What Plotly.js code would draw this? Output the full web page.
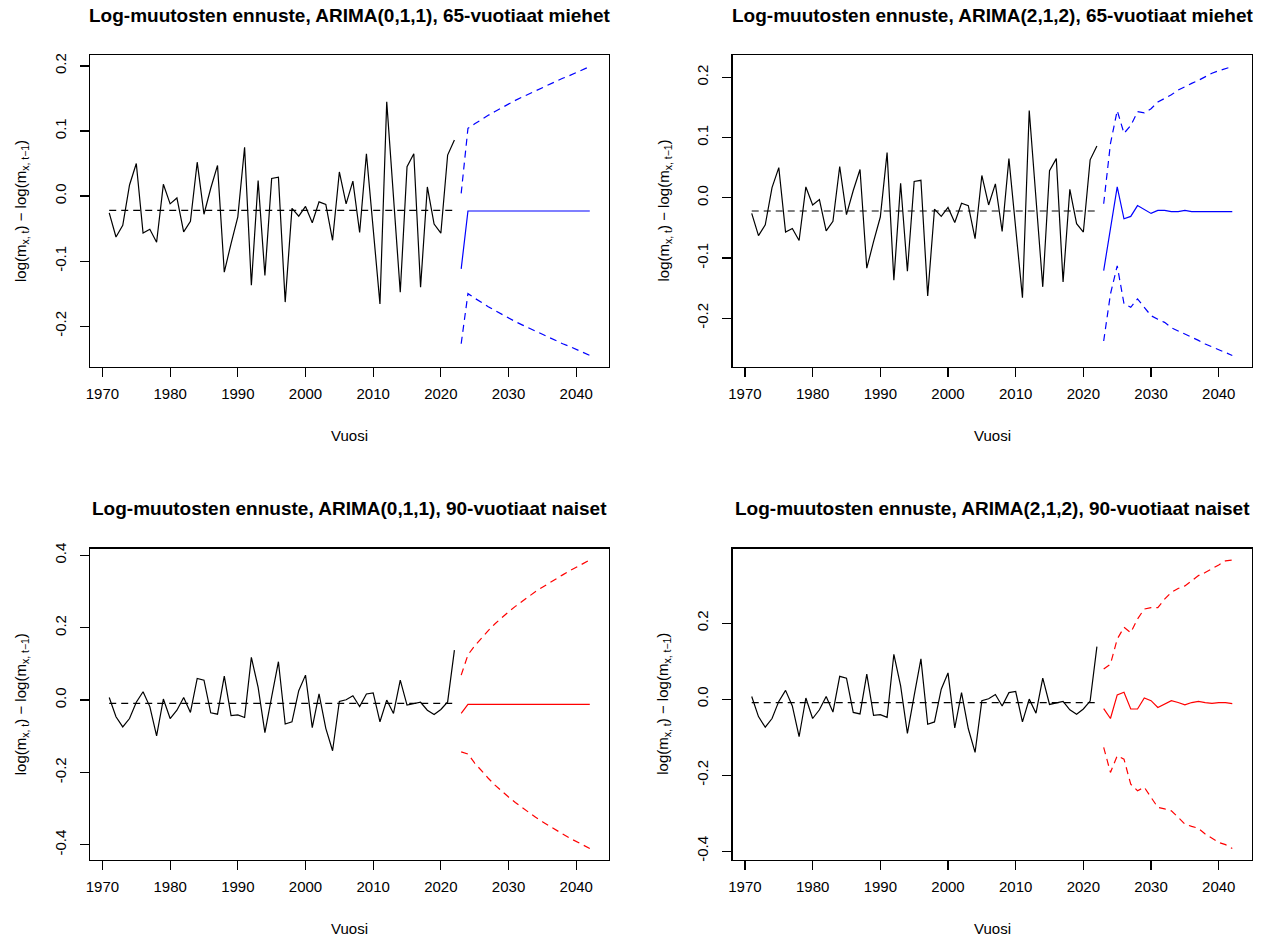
<!DOCTYPE html>
<html>
<head>
<meta charset="utf-8">
<script src="https://cdn.plot.ly/plotly-3.0.1.min.js"></script>
<style>
  html, body { margin: 0; padding: 0; background: #ffffff; }
  #chart { width: 1269px; height: 940px; }
</style>
</head>
<body>
<div id="chart"></div>
<script>
// Observed years and yearly log-changes of mortality
const years = [1971,1972,1973,1974,1975,1976,1977,1978,1979,1980,
               1981,1982,1983,1984,1985,1986,1987,1988,1989,1990,
               1991,1992,1993,1994,1995,1996,1997,1998,1999,2000,
               2001,2002,2003,2004,2005,2006,2007,2008,2009,2010,
               2011,2012,2013,2014,2015,2016,2017,2018,2019,2020,
               2021,2022];

const men65 = [-0.026,-0.063,-0.045,0.017,0.050,-0.057,-0.051,-0.071,0.018,-0.012,
               -0.003,-0.055,-0.039,0.052,-0.028,0.012,0.047,-0.117,-0.073,-0.032,
               0.075,-0.137,0.024,-0.122,0.027,0.029,-0.163,-0.019,-0.031,-0.016,
               -0.041,-0.009,-0.013,-0.068,0.037,-0.012,0.023,-0.056,0.065,-0.050,
               -0.166,0.145,-0.005,-0.148,0.045,0.065,-0.140,0.014,-0.043,-0.057,
               0.063,0.086];

const women90 = [0.007,-0.046,-0.074,-0.051,-0.006,0.023,-0.018,-0.099,0.003,-0.051,
                 -0.028,0.007,-0.034,0.060,0.055,-0.035,-0.039,0.066,-0.043,-0.041,
                 -0.048,0.118,0.035,-0.090,0.009,0.106,-0.066,-0.060,0.026,0.069,
                 -0.076,0.017,-0.078,-0.140,-0.004,0.001,0.012,-0.018,0.017,0.020,
                 -0.060,0.000,-0.037,0.055,-0.014,-0.009,-0.006,-0.028,-0.040,-0.026,
                 -0.005,0.138];

// Average level of each observed series (dashed reference line)
const men65Level = -0.022;
const women90Level = -0.009;

// Forecast horizon
const fcYears = [2023,2024,2025,2026,2027,2028,2029,2030,2031,2032,
                 2033,2034,2035,2036,2037,2038,2039,2040,2041,2042];

// ARIMA(0,1,1), 65-year-old men
const a011MenMean  = [-0.112,-0.023,-0.023,-0.023,-0.023,-0.023,-0.023,-0.023,-0.023,-0.023,
                      -0.023,-0.023,-0.023,-0.023,-0.023,-0.023,-0.023,-0.023,-0.023,-0.023];
const a011MenUpper = [0.004,0.104,0.111,0.118,0.124,0.130,0.136,0.142,0.147,0.152,
                      0.157,0.162,0.167,0.172,0.176,0.181,0.185,0.190,0.194,0.199];
const a011MenLower = [-0.227,-0.150,-0.157,-0.164,-0.170,-0.176,-0.182,-0.188,-0.193,-0.198,
                      -0.203,-0.208,-0.213,-0.218,-0.222,-0.227,-0.231,-0.236,-0.240,-0.245];

// ARIMA(2,1,2), 65-year-old men
const a212MenMean  = [-0.121,-0.049,0.018,-0.035,-0.031,-0.013,-0.020,-0.026,-0.021,-0.021,
                      -0.023,-0.023,-0.021,-0.023,-0.023,-0.023,-0.023,-0.023,-0.023,-0.023];
const a212MenUpper = [-0.010,0.090,0.145,0.107,0.120,0.143,0.141,0.148,0.159,0.165,
                      0.171,0.179,0.185,0.190,0.195,0.201,0.207,0.211,0.215,0.218];
const a212MenLower = [-0.238,-0.160,-0.113,-0.176,-0.182,-0.168,-0.182,-0.196,-0.202,-0.207,
                      -0.216,-0.221,-0.226,-0.232,-0.237,-0.243,-0.248,-0.253,-0.257,-0.262];

// ARIMA(0,1,1), 90-year-old women
const a011WomenMean  = [-0.037,-0.012,-0.012,-0.012,-0.012,-0.012,-0.012,-0.012,-0.012,-0.012,
                        -0.012,-0.012,-0.012,-0.012,-0.012,-0.012,-0.012,-0.012,-0.012,-0.012];
const a011WomenUpper = [0.069,0.125,0.150,0.172,0.192,0.211,0.228,0.244,0.259,0.273,
                        0.287,0.300,0.312,0.324,0.335,0.346,0.357,0.367,0.377,0.387];
const a011WomenLower = [-0.143,-0.149,-0.174,-0.196,-0.216,-0.235,-0.252,-0.268,-0.283,-0.297,
                        -0.311,-0.324,-0.336,-0.348,-0.359,-0.370,-0.381,-0.391,-0.401,-0.410];

// ARIMA(2,1,2), 90-year-old women
const a212WomenMean  = [-0.025,-0.051,0.011,0.018,-0.026,-0.026,0.003,-0.004,-0.022,-0.013,
                        -0.004,-0.009,-0.015,-0.009,-0.006,-0.009,-0.011,-0.009,-0.009,-0.012];
const a212WomenUpper = [0.079,0.092,0.158,0.189,0.175,0.211,0.237,0.241,0.241,0.263,
                        0.281,0.291,0.298,0.311,0.325,0.333,0.342,0.353,0.364,0.366];
const a212WomenLower = [-0.127,-0.193,-0.149,-0.158,-0.224,-0.241,-0.232,-0.259,-0.285,-0.289,
                        -0.294,-0.311,-0.329,-0.335,-0.340,-0.355,-0.367,-0.377,-0.383,-0.393];

// Tick labels
const xTickVals = [1970,1980,1990,2000,2010,2020,2030,2040];
const xTickText = ['1970','1980','1990','2000','2010','2020','2030','2040'];
const yTickVals65 = [-0.2,-0.1,0.0,0.1,0.2];
const yTickText65 = ['-0.2','-0.1','0.0','0.1','0.2'];
const yTickVals90 = [-0.4,-0.2,0.0,0.2,0.4];
const yTickText90 = ['-0.4','-0.2','0.0','0.2','0.4'];

const titles = [
  'Log-muutosten ennuste, ARIMA(0,1,1), 65-vuotiaat miehet',
  'Log-muutosten ennuste, ARIMA(2,1,2), 65-vuotiaat miehet',
  'Log-muutosten ennuste, ARIMA(0,1,1), 90-vuotiaat naiset',
  'Log-muutosten ennuste, ARIMA(2,1,2), 90-vuotiaat naiset'
];
const xLabel = 'Vuosi';
const yLabel = 'log(m<sub>x, t</sub>) \u2212 log(m<sub>x, t\u22121</sub>)';

const panels = [
  { hist: men65,   level: men65Level,   mean: a011MenMean,   upper: a011MenUpper,   lower: a011MenLower,   color: '#0000ff', tv: yTickVals65, tt: yTickText65 },
  { hist: men65,   level: men65Level,   mean: a212MenMean,   upper: a212MenUpper,   lower: a212MenLower,   color: '#0000ff', tv: yTickVals65, tt: yTickText65 },
  { hist: women90, level: women90Level, mean: a011WomenMean, upper: a011WomenUpper, lower: a011WomenLower, color: '#ff0000', tv: yTickVals90, tt: yTickText90 },
  { hist: women90, level: women90Level, mean: a212WomenMean, upper: a212WomenUpper, lower: a212WomenLower, color: '#ff0000', tv: yTickVals90, tt: yTickText90 }
];

// Plot boxes in pixels: [left, right, top, bottom]
const W = 1269, H = 940;
const boxes = [
  [90, 609, 55, 367],
  [732.5, 1251.5, 55, 367],
  [90, 609, 548.5, 860],
  [732.5, 1251.5, 548.5, 860]
];

// R-style axis range: data extent padded by 4% on both sides
function padded(arrs) {
  let lo = Infinity, hi = -Infinity;
  arrs.forEach(a => a.forEach(v => { if (v < lo) lo = v; if (v > hi) hi = v; }));
  const d = 0.04 * (hi - lo);
  return [lo - d, hi + d];
}

const font = 'Liberation Sans, Arial, sans-serif';
const traces = [];
const layout = {
  width: W, height: H,
  margin: { l: 0, r: 0, t: 0, b: 0 },
  paper_bgcolor: '#ffffff', plot_bgcolor: '#ffffff',
  showlegend: false,
  annotations: []
};

panels.forEach((p, i) => {
  const n = i === 0 ? '' : String(i + 1);
  const xa = 'x' + n, ya = 'y' + n;
  const b = boxes[i];

  // observed series
  traces.push({ x: years, y: p.hist, xaxis: xa, yaxis: ya, type: 'scatter', mode: 'lines',
    line: { color: '#000000', width: 1.2 }, hoverinfo: 'skip' });
  // average level of the observed series
  traces.push({ x: years, y: years.map(() => p.level), xaxis: xa, yaxis: ya, type: 'scatter', mode: 'lines',
    line: { color: '#000000', width: 1.2, dash: '7px,5px' }, hoverinfo: 'skip' });
  // forecast mean and interval bounds
  traces.push({ x: fcYears, y: p.mean, xaxis: xa, yaxis: ya, type: 'scatter', mode: 'lines',
    line: { color: p.color, width: 1.2 }, hoverinfo: 'skip' });
  traces.push({ x: fcYears, y: p.upper, xaxis: xa, yaxis: ya, type: 'scatter', mode: 'lines',
    line: { color: p.color, width: 1.2, dash: '7px,5px' }, hoverinfo: 'skip' });
  traces.push({ x: fcYears, y: p.lower, xaxis: xa, yaxis: ya, type: 'scatter', mode: 'lines',
    line: { color: p.color, width: 1.2, dash: '7px,5px' }, hoverinfo: 'skip' });

  const common = {
    showline: true, mirror: true, linecolor: '#000000', linewidth: 1.2,
    ticks: 'outside', ticklen: 9, tickwidth: 1.2, tickcolor: '#000000',
    showgrid: false, zeroline: false, fixedrange: true,
    tickfont: { family: font, size: 15, color: '#000000' },
    tickmode: 'array'
  };

  layout['xaxis' + n] = Object.assign({}, common, {
    domain: [b[0] / W, b[1] / W],
    anchor: ya,
    range: padded([years, fcYears]),
    tickvals: xTickVals, ticktext: xTickText,
    ticklabelstandoff: 4
  });
  layout['yaxis' + n] = Object.assign({}, common, {
    domain: [1 - b[3] / H, 1 - b[2] / H],
    anchor: xa,
    range: padded([p.hist, p.mean, p.upper, p.lower]),
    tickvals: p.tv, ticktext: p.tt,
    tickangle: -90,
    ticklabelstandoff: 8
  });

  layout.annotations.push({
    xref: xa + ' domain', yref: ya + ' domain', x: 0.5, y: 1,
    xanchor: 'center', yanchor: 'middle', yshift: 40, showarrow: false,
    text: '<b>' + titles[i] + '</b>',
    font: { family: font, size: 19, color: '#000000' }
  });
  layout.annotations.push({
    xref: xa + ' domain', yref: ya + ' domain', x: 0.5, y: 0,
    xanchor: 'center', yanchor: 'middle', yshift: -68, showarrow: false,
    text: xLabel,
    font: { family: font, size: 15, color: '#000000' }
  });
  layout.annotations.push({
    xref: xa + ' domain', yref: ya + ' domain', x: 0, y: 0.5,
    xanchor: 'center', yanchor: 'middle', xshift: -69, showarrow: false,
    textangle: -90,
    text: yLabel,
    font: { family: font, size: 15, color: '#000000' }
  });
});

Plotly.newPlot('chart', traces, layout, { displayModeBar: false, staticPlot: true });
</script>
</body>
</html>
